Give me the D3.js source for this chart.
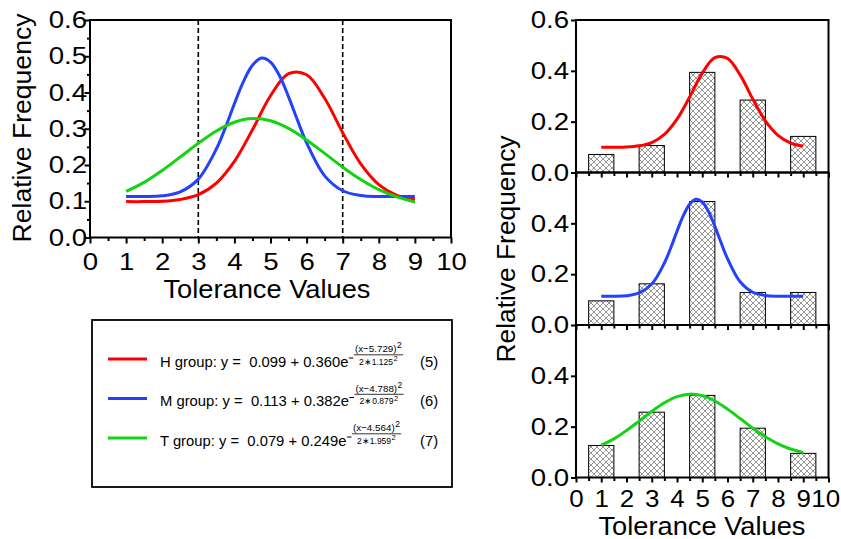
<!DOCTYPE html>
<html>
<head>
<meta charset="utf-8">
<script src="https://cdn.jsdelivr.net/npm/d3@7"></script>
<style>
  body { margin: 0; background: #fff; }
  svg { display: block; font-family: "Liberation Sans", Arial, sans-serif; }
</style>
</head>
<body>
<svg id="chart" width="841" height="539"></svg>
<script>
// values
let curveX = [1, 1.5, 2, 2.5, 3, 3.5, 4, 4.5, 5, 5.5, 6, 6.5, 7, 7.5, 8, 8.5, 9];
let hCurve = [0.099, 0.099, 0.100, 0.105, 0.118, 0.150, 0.210, 0.297, 0.391, 0.452, 0.449, 0.384, 0.289, 0.203, 0.146, 0.116, 0.104];
let tCurve = [0.127, 0.152, 0.185, 0.222, 0.260, 0.294, 0.318, 0.328, 0.322, 0.301, 0.269, 0.232, 0.194, 0.160, 0.132, 0.112, 0.098];
let mCurveX = [1, 1.5, 2, 2.5, 3, 3.5, 3.75, 4, 4.25, 4.5, 4.75, 5, 5.25, 5.5, 5.75, 6, 6.5, 7, 7.5, 8, 8.5, 9];
let mCurve = [0.113, 0.113, 0.115, 0.126, 0.161, 0.244, 0.303, 0.369, 0.430, 0.475, 0.495, 0.484, 0.446, 0.388, 0.323, 0.261, 0.170, 0.129, 0.116, 0.113, 0.113, 0.113];

let barX = [1, 3, 5, 7, 9];
let hBars = [0.071, 0.106, 0.394, 0.285, 0.142];
let mBars = [0.095, 0.162, 0.486, 0.128, 0.128];
let tBars = [0.126, 0.257, 0.323, 0.194, 0.095];

let groups = ["H", "M", "T"];
let fitA = ["0.099", "0.113", "0.079"];
let fitB = ["0.360", "0.382", "0.249"];
let fitMu = ["5.729", "4.788", "4.564"];
let fitSd = ["1.125", "0.879", "1.959"];
let eqNums = ["(5)", "(6)", "(7)"];
let colors = ["#ff0000", "#2441ff", "#14d214"];

let xTicks = [0, 1, 2, 3, 4, 5, 6, 7, 8, 9, 10];
let xMinor = [0.5, 1.5, 2.5, 3.5, 4.5, 5.5, 6.5, 7.5, 8.5, 9.5];
let leftYTicks = [0, 0.1, 0.2, 0.3, 0.4, 0.5, 0.6];
let leftYMinor = [0.05, 0.15, 0.25, 0.35, 0.45, 0.55];
let rightYTicks = [[0, 0.2, 0.4, 0.6], [0, 0.2, 0.4], [0, 0.2, 0.4]];
let cutoffs = [3, 7];

let series = groups.map((g, i) => ({
  name: g,
  color: colors[i],
  pts: (g === "M" ? mCurveX : curveX).map((x, j) => [x, [hCurve, mCurve, tCurve][i][j]]),
  bars: [hBars, mBars, tBars][i].map((v, j) => [barX[j], v])
}));

// the figure's lettering is a bit wider than Arial
let stretch = 1.15;

let svg = d3.select("#chart");

let defs = svg.append("defs");
let pat = defs.append("pattern")
  .attr("id", "hatch")
  .attr("patternUnits", "userSpaceOnUse")
  .attr("width", 6)
  .attr("height", 6);
pat.append("rect").attr("width", 6).attr("height", 6).attr("fill", "#fff");
pat.append("path")
  .attr("d", "M0,0L6,6M-1,5L1,7M5,-1L7,1M6,0L0,6M-1,1L1,-1M5,7L7,5")
  .attr("stroke", "#6a6a6a")
  .attr("stroke-width", 0.7);

function styleAxis(g, size, sx = stretch) {
  g.attr("font-family", null).attr("font-size", null);
  g.select(".domain").remove();
  g.selectAll(".tick line").attr("stroke", "#000").attr("stroke-width", 2);
  g.selectAll(".tick text")
    .attr("fill", "#000")
    .attr("font-size", size)
    .attr("x", function() { return (+d3.select(this).attr("x") || 0) / sx; })
    .attr("transform", `scale(${sx},1)`);
}

// ---------- left chart ----------
let xL = d3.scaleLinear().domain([0, 10]).range([90, 451]);
let yL = d3.scaleLinear().domain([0, 0.6]).range([237.5, 20]);

svg.append("g")
  .attr("transform", "translate(0,237.5)")
  .call(d3.axisBottom(xL).tickValues(xMinor).tickSize(3.5).tickFormat(""))
  .call(g => styleAxis(g, 24));
svg.append("g")
  .attr("transform", "translate(0,237.5)")
  .call(d3.axisBottom(xL).tickValues(xTicks).tickSize(6).tickPadding(9.5).tickFormat(d3.format("d")))
  .call(g => styleAxis(g, 24));
svg.append("g")
  .attr("transform", "translate(90,0)")
  .call(d3.axisLeft(yL).tickValues(leftYMinor).tickSize(3).tickFormat(""))
  .call(g => styleAxis(g, 24));
svg.append("g")
  .attr("transform", "translate(90,0)")
  .call(d3.axisLeft(yL).tickValues(leftYTicks).tickSize(5.5).tickPadding(-2.5).tickFormat(d3.format(".1f")))
  .call(g => styleAxis(g, 24));

svg.selectAll(".cutoff")
  .data(cutoffs)
  .enter()
  .append("line")
  .attr("x1", d => xL(d))
  .attr("x2", d => xL(d))
  .attr("y1", yL(0.6))
  .attr("y2", yL(0))
  .attr("stroke", "#000")
  .attr("stroke-width", 1.6)
  .attr("stroke-dasharray", "5,3");

let lineL = d3.line().x(d => xL(d[0])).y(d => yL(d[1])).curve(d3.curveCatmullRom);
series.forEach(s => {
  svg.append("path")
    .attr("d", lineL(s.pts))
    .attr("fill", "none")
    .attr("stroke", s.color)
    .attr("stroke-width", 3);
});

svg.append("rect")
  .attr("x", 90).attr("y", 20)
  .attr("width", 361).attr("height", 217.5)
  .attr("fill", "none").attr("stroke", "#000").attr("stroke-width", 2);

svg.append("text")
  .attr("x", 267).attr("y", 298)
  .attr("text-anchor", "middle").attr("font-size", 25)
  .attr("textLength", 207).attr("lengthAdjust", "spacingAndGlyphs")
  .text("Tolerance Values");
svg.append("text")
  .attr("transform", "translate(31,128) rotate(-90)")
  .attr("text-anchor", "middle").attr("font-size", 26.5)
  .attr("textLength", 229).attr("lengthAdjust", "spacingAndGlyphs")
  .text("Relative Frequency");

// ---------- legend box ----------
svg.append("rect")
  .attr("x", 92).attr("y", 320)
  .attr("width", 360).attr("height", 167)
  .attr("fill", "#fff").attr("stroke", "#000").attr("stroke-width", 1.8);

let leg = svg.append("g");
groups.forEach((g, i) => {
  let base = 366.5 + i * 39.5;
  leg.append("line")
    .attr("x1", 108).attr("x2", 147)
    .attr("y1", base - 7.5).attr("y2", base - 7.5)
    .attr("stroke", colors[i]).attr("stroke-width", 3);
  let main = leg.append("text")
    .attr("x", 160).attr("y", base)
    .attr("font-size", 14.8)
    .style("white-space", "pre")
    .text(`${g} group: y =  ${fitA[i]} + ${fitB[i]}e`);
  let x0 = 160 + main.node().getComputedTextLength();

  // exponent: -(x-mu)^2 / (2*sd^2)
  leg.append("line")
    .attr("x1", x0 + 0.5).attr("x2", x0 + 5)
    .attr("y1", base - 8.5).attr("y2", base - 8.5)
    .attr("stroke", "#000").attr("stroke-width", 1);
  let num = leg.append("text")
    .attr("x", x0 + 6.5).attr("y", base - 14.5)
    .attr("font-size", 9.8)
    .text(`(x\u2212${fitMu[i]})`);
  let nw = num.node().getComputedTextLength();
  leg.append("text")
    .attr("x", x0 + 7 + nw).attr("y", base - 18.5)
    .attr("font-size", 8.5)
    .text("2");
  let fx1 = x0 + 5.5, fx2 = x0 + 7 + nw + 6;
  leg.append("line")
    .attr("x1", fx1).attr("x2", fx2)
    .attr("y1", base - 11.7).attr("y2", base - 11.7)
    .attr("stroke", "#000").attr("stroke-width", 0.8);
  let den = leg.append("text")
    .attr("y", base - 2)
    .attr("font-size", 8.5)
    .text(`2\u2217${fitSd[i]}`);
  let dw = den.node().getComputedTextLength();
  let dx = (fx1 + fx2) / 2 - (dw + 5) / 2;
  den.attr("x", dx);
  leg.append("text")
    .attr("x", dx + dw + 0.5).attr("y", base - 5.5)
    .attr("font-size", 7.5)
    .text("2");

  leg.append("text")
    .attr("x", 420).attr("y", base)
    .attr("font-size", 14.8)
    .text(eqNums[i]);
});

// ---------- right stacked panels ----------
let xR = d3.scaleLinear().domain([0, 10]).range([576, 828.5]);
let panelH = 152.5;
let lineR = d3.line().curve(d3.curveCatmullRom);

series.forEach((s, i) => {
  let top = 20 + i * panelH;
  let yR = d3.scaleLinear().domain([0, 0.6]).range([top + panelH, top]);
  let p = svg.append("g");

  p.selectAll("rect.bar")
    .data(s.bars)
    .enter()
    .append("rect")
    .attr("class", "bar")
    .attr("x", d => xR(d[0] - 0.5))
    .attr("width", d => xR(d[0] + 0.5) - xR(d[0] - 0.5))
    .attr("y", d => yR(d[1]))
    .attr("height", d => yR(0) - yR(d[1]))
    .attr("fill", "url(#hatch)")
    .attr("stroke", "#000")
    .attr("stroke-width", 1);

  p.append("path")
    .attr("d", lineR.x(d => xR(d[0])).y(d => yR(d[1]))(s.pts))
    .attr("fill", "none")
    .attr("stroke", s.color)
    .attr("stroke-width", 3);

  p.append("g")
    .attr("transform", `translate(0,${top + panelH})`)
    .call(d3.axisBottom(xR).tickValues(xMinor).tickSize(3.5).tickFormat(""))
    .call(g => styleAxis(g, 24));
  let last = i === series.length - 1;
  let xAx = p.append("g")
    .attr("transform", `translate(0,${top + panelH})`)
    .call(d3.axisBottom(xR).tickValues(xTicks).tickSize(5).tickPadding(7.5)
      .tickFormat(last ? d3.format("d") : ""))
    .call(g => styleAxis(g, 24, 1.08));
  // keep the "10" inside the page edge
  xAx.selectAll(".tick text").filter(d => d === 10).attr("dx", -3);
  p.append("g")
    .attr("transform", "translate(576,0)")
    .call(d3.axisLeft(yR).tickValues(rightYTicks[i]).tickSize(5).tickPadding(2).tickFormat(d3.format(".1f")))
    .call(g => styleAxis(g, 24));

  p.append("rect")
    .attr("x", 576).attr("y", top)
    .attr("width", 252.5).attr("height", panelH)
    .attr("fill", "none").attr("stroke", "#000").attr("stroke-width", 2);
});

svg.append("text")
  .attr("x", 702).attr("y", 535)
  .attr("text-anchor", "middle").attr("font-size", 25)
  .attr("textLength", 207).attr("lengthAdjust", "spacingAndGlyphs")
  .text("Tolerance Values");
svg.append("text")
  .attr("transform", "translate(515,249) rotate(-90)")
  .attr("text-anchor", "middle").attr("font-size", 26.5)
  .attr("textLength", 227).attr("lengthAdjust", "spacingAndGlyphs")
  .text("Relative Frequency");
</script>
</body>
</html>
